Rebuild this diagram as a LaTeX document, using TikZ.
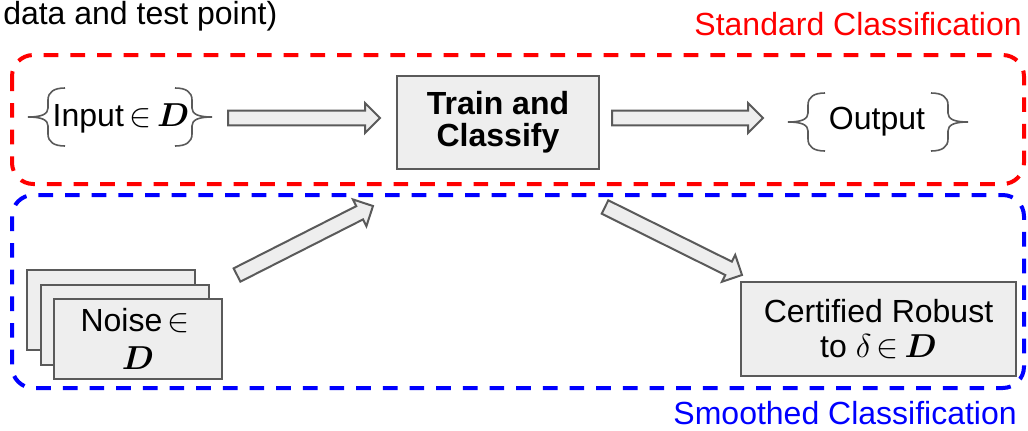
\documentclass[tikz,border=0pt]{standalone}
\usepackage{amsmath}
\usepackage{amssymb}
\usepackage{fontspec}
\setmainfont{Liberation Sans}
\usepackage{tikz}
\usetikzlibrary{calc}

\definecolor{boxfill}{HTML}{EEEEEE}
\definecolor{boxline}{HTML}{5A5A5A}

\tikzset{
  box/.style={draw=boxline, fill=boxfill, line width=1.5pt, align=center,
    font=\fontsize{24}{26.25}\selectfont, inner sep=0pt},
  fatarr/.style={draw=boxline, fill=boxfill, line width=1.5pt},
  bracecol/.style={draw=boxline, line width=1.2pt},
  frame/.style={line width=3pt, dash pattern=on 11pt off 9pt, rounded corners=16pt},
  lbl/.style={font=\fontsize{24}{26}\selectfont, inner sep=0pt},
  lbrace/.pic={
    \draw[bracecol] (37,-29) .. controls (26,-29) and (20,-25) .. (20,-17) -- (20,-9)
      .. controls (20,-3) and (14,0) .. (0,0) .. controls (14,0) and (20,3) .. (20,9)
      -- (20,17) .. controls (20,25) and (26,29) .. (37,29);
  }
}

% element sign without relation spacing
\newcommand{\elt}{\,{\in}\,}

% hollow block arrow from #1 to #2
\newcommand{\fatarrow}[2]{%
  \coordinate (fa-h) at ($(#2)!11.25pt!(#1)$);
  \draw[fatarr] ($(#1)!5.6pt!90:(#2)$) -- ($(fa-h)!5.6pt!90:(#2)$)
    -- ($(fa-h)!11.25pt!90:(#2)$) -- (#2) -- ($(fa-h)!11.25pt!-90:(#2)$)
    -- ($(fa-h)!5.6pt!-90:(#2)$) -- ($(#1)!5.6pt!-90:(#2)$) -- cycle;
}

\begin{document}
\begin{tikzpicture}[x=0.75pt,y=-0.75pt]
  \useasboundingbox (0,0) rectangle (1028,430);

  % labels and frames
  \node[lbl, anchor=base west] (note) at (3,24) {data and test point)};
  \node[lbl, anchor=base east, text=red] (stdlbl) at (1022,35) {Standard Classification};
  \node[lbl, anchor=base east, text=blue] (smlbl) at (1017,424) {Smoothed Classification};
  \draw[frame, red] (12,55) rectangle (1024,184);
  \draw[frame, blue] (12,195) rectangle (1024,388);

  % top row
  \node[lbl] (input) at (121,118) {Input$\elt\boldsymbol{D}$};
  \pic at (28,117) {lbrace};
  \pic[xscale=-1] at (212,117) {lbrace};
  \node[box, minimum width=151.5pt, minimum height=69.75pt, font=\bfseries\fontsize{24}{24}\selectfont]
    (train) at (498,122.5) {Train and\\Classify};
  \node[lbl] (output) at (877,122) {Output};
  \pic at (788,122) {lbrace};
  \pic[xscale=-1] at (968,122) {lbrace};

  % noise stack and result
  \foreach \i in {0,1}
    \node[box, minimum width=126pt, minimum height=60pt] (noise\i) at (111+\i*13.5,310+\i*14.5) {};
  \node[box, minimum width=126pt, minimum height=60pt] (noise) at (138,339) {Noise$\elt$\\[2.5pt]$\boldsymbol{D}$};
  \node[box, minimum width=206.25pt, minimum height=70.5pt] (cert) at (878.5,329)
    {Certified Robust\\to $\delta\elt\boldsymbol{D}$};

  % arrows
  \coordinate (a1s) at (228,118);  \coordinate (a1e) at (380,118);
  \coordinate (a2s) at (612,118);  \coordinate (a2e) at (763,118);
  \coordinate (a3s) at (237,275);  \coordinate (a3e) at (373,206);
  \coordinate (a4s) at (605,207);  \coordinate (a4e) at (742,275);
  \fatarrow{a1s}{a1e}
  \fatarrow{a2s}{a2e}
  \fatarrow{a3s}{a3e}
  \fatarrow{a4s}{a4e}
\end{tikzpicture}
\end{document}
